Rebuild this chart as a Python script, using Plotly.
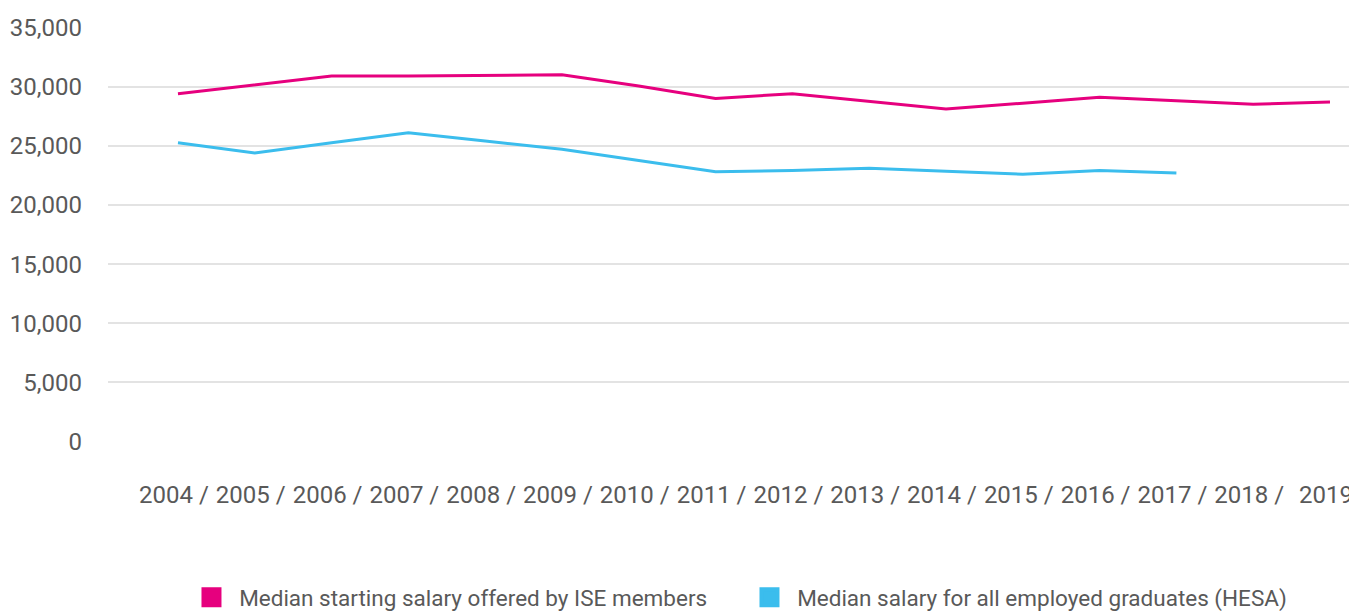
"""
ISE starting salary vs HESA graduate salary, 2004-2019
"""
import plotly.graph_objects as go

# data
years = [str(y) for y in range(2004, 2020)]
tick_labels = [f"{y} /" for y in years[:-1]] + [years[-1]]

ise_salary = [29400, 30150, 30900, 30900, 30950, 31000, 30050, 29000,
              29400, 28750, 28100, 28600, 29100, 28800, 28500, 28700]
hesa_salary = [25250, 24400, 25250, 26100, 25400, 24700, 23750, 22800,
               22900, 23100, 22850, 22600, 22900, 22700, None, None]

y_ticks = [0, 5000, 10000, 15000, 20000, 25000, 30000, 35000]

PINK = "#E6007E"
BLUE = "#3BBDED"
TEXT = "#595959"
GRID = "#E3E3E3"
FONT = "Roboto, Liberation Sans, sans-serif"

fig = go.Figure()

fig.add_trace(go.Scatter(
    x=years, y=ise_salary, mode="lines",
    line=dict(color=PINK, width=3), showlegend=False
))
fig.add_trace(go.Scatter(
    x=years, y=hesa_salary, mode="lines",
    line=dict(color=BLUE, width=3), showlegend=False
))

# square legend keys (legend caps marker size at 16, the outline makes up the rest)
for name, color in [("Median starting salary offered by ISE members", PINK),
                    ("Median salary for all employed graduates (HESA)", BLUE)]:
    fig.add_trace(go.Scatter(
        x=[None], y=[None], mode="markers", name="\u2004" + name,
        marker=dict(symbol="square", size=16, color=color,
                    line=dict(color=color, width=4))
    ))

# page body has an 8px margin, so the figure is sized to fit inside it
fig.update_layout(
    width=1349,
    height=604,
    margin=dict(l=100, r=3, t=19, b=170, autoexpand=False),
    paper_bgcolor="white",
    plot_bgcolor="white",
    font=dict(family=FONT, size=24, color=TEXT),
    legend=dict(orientation="h", x=0.067, xanchor="left", y=-0.375, yanchor="middle",
                entrywidth=513, font=dict(size=22.5, color=TEXT)),
    xaxis=dict(
        type="category",
        range=[-0.911, 15.3125],
        tickmode="array",
        tickvals=years,
        ticktext=tick_labels,
        showgrid=False,
        zeroline=False,
        showline=False,
        ticks="",
        ticklabelstandoff=36,
        ticklabelshift=-4,
        tickangle=0,
    ),
    yaxis=dict(
        range=[-30, 35035],
        tickvals=y_ticks,
        tickformat=",d",
        showgrid=True,
        gridcolor=GRID,
        gridwidth=1.5,
        zeroline=False,
        showline=False,
        ticks="",
        ticklabelstandoff=25,
    ),
)

fig.write_html("out.html")
